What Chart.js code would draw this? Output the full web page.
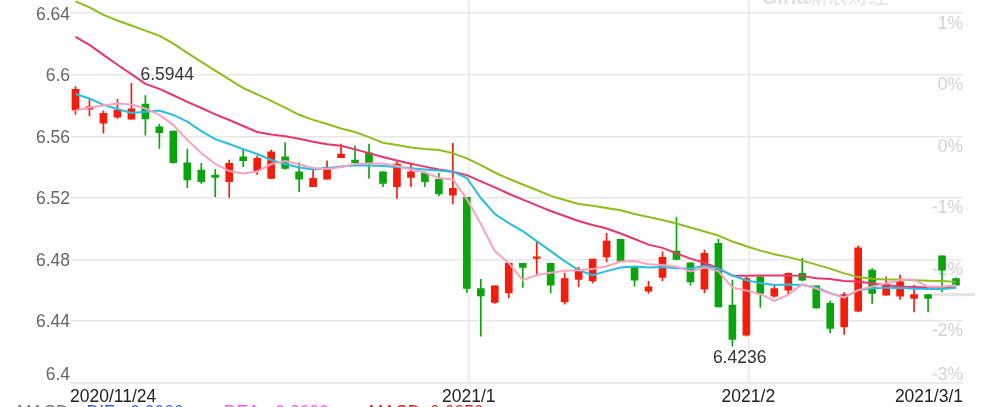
<!DOCTYPE html>
<html>
<head>
<meta charset="utf-8">
<script src="https://cdn.jsdelivr.net/npm/chart.js@4.4.1/dist/chart.umd.min.js"></script>
<style>
  html, body { margin: 0; padding: 0; background: #fff; }
  #wrap { width: 983px; height: 407px; overflow: hidden; }
</style>
</head>
<body>
<div id="wrap"><canvas id="kline" width="983" height="407"></canvas></div>
<script>
const dates = [
  '2020/11/24','2020/11/25','2020/11/26','2020/11/27','2020/11/30',
  '2020/12/1','2020/12/2','2020/12/3','2020/12/4',
  '2020/12/7','2020/12/8','2020/12/9','2020/12/10','2020/12/11',
  '2020/12/14','2020/12/15','2020/12/16','2020/12/17','2020/12/18',
  '2020/12/21','2020/12/22','2020/12/23','2020/12/24','2020/12/25',
  '2020/12/28','2020/12/29','2020/12/30','2020/12/31',
  '2021/1/4','2021/1/5','2021/1/6','2021/1/7','2021/1/8',
  '2021/1/11','2021/1/12','2021/1/13','2021/1/14','2021/1/15',
  '2021/1/18','2021/1/19','2021/1/20','2021/1/21','2021/1/22',
  '2021/1/25','2021/1/26','2021/1/27','2021/1/28','2021/1/29',
  '2021/2/1','2021/2/2','2021/2/3','2021/2/4','2021/2/5',
  '2021/2/8','2021/2/9','2021/2/10','2021/2/18','2021/2/19',
  '2021/2/22','2021/2/23','2021/2/24','2021/2/25','2021/2/26',
  '2021/3/1'
]

const opens = [
  6.5771, 6.5776, 6.5685, 6.5724, 6.5711, 6.5810, 6.5662, 6.5634, 6.5428, 6.5381,
  6.5348, 6.5305, 6.5467, 6.5376, 6.5327, 6.5467, 6.5370, 6.5272, 6.5322, 6.5461,
  6.5446, 6.5493, 6.5370, 6.5272, 6.5333, 6.5359, 6.5320, 6.5218, 6.5203, 6.4611,
  6.4520, 6.4583, 6.4774, 6.4806, 6.4774, 6.4524, 6.4670, 6.4661, 6.4817, 6.4930,
  6.4748, 6.4594, 6.4683, 6.4854, 6.4778, 6.4607, 6.4904, 6.4503, 6.4308, 6.4687,
  6.4561, 6.4600, 6.4709, 6.4628, 6.4514, 6.4362, 6.4464, 6.4730, 6.4568, 6.4561,
  6.4546, 6.4572, 6.4824, 6.4676
]
const closes = [
  6.5906, 6.5793, 6.5750, 6.5771, 6.5778, 6.5713, 6.5623, 6.5428, 6.5316, 6.5305,
  6.5333, 6.5424, 6.5441, 6.5457, 6.5500, 6.5392, 6.5322, 6.5327, 6.5398, 6.5485,
  6.5428, 6.5424, 6.5294, 6.5420, 6.5370, 6.5305, 6.5225, 6.5262, 6.4611, 6.4563,
  6.4628, 6.4774, 6.4748, 6.4817, 6.4633, 6.4676, 6.4735, 6.4802, 6.4919, 6.4789,
  6.4665, 6.4622, 6.4813, 6.4800, 6.4654, 6.4839, 6.4492, 6.4280, 6.4676, 6.4579,
  6.4611, 6.4709, 6.4665, 6.4485, 6.4351, 6.4572, 6.4876, 6.4579, 6.4637, 6.4654,
  6.4572, 6.4546, 6.4730, 6.4633
]
const highs = [
  6.5923, 6.5847, 6.5765, 6.5841, 6.5944, 6.5864, 6.5680, 6.5634, 6.5517, 6.5424,
  6.5385, 6.5446, 6.5517, 6.5472, 6.5511, 6.5558, 6.5430, 6.5392, 6.5441, 6.5550,
  6.5537, 6.5550, 6.5370, 6.5435, 6.5424, 6.5363, 6.5359, 6.5555, 6.5203, 6.4670,
  6.4628, 6.4774, 6.4774, 6.4914, 6.4774, 6.4709, 6.4748, 6.4802, 6.4969, 6.4930,
  6.4748, 6.4657, 6.4850, 6.5073, 6.4778, 6.4860, 6.4932, 6.4665, 6.4687, 6.4687,
  6.4626, 6.4713, 6.4807, 6.4628, 6.4529, 6.4585, 6.4889, 6.4741, 6.4687, 6.4698,
  6.4633, 6.4572, 6.4824, 6.4680
]
const lows = [
  6.5743, 6.5732, 6.5620, 6.5717, 6.5711, 6.5608, 6.5522, 6.5424, 6.5266, 6.5294,
  6.5207, 6.5203, 6.5402, 6.5353, 6.5327, 6.5385, 6.5240, 6.5272, 6.5322, 6.5461,
  6.5407, 6.5327, 6.5272, 6.5197, 6.5272, 6.5272, 6.5212, 6.5160, 6.4585, 6.4301,
  6.4514, 6.4550, 6.4618, 6.4704, 6.4583, 6.4509, 6.4622, 6.4648, 6.4784, 6.4784,
  6.4626, 6.4579, 6.4661, 6.4796, 6.4633, 6.4583, 6.4492, 6.4236, 6.4301, 6.4488,
  6.4553, 6.4574, 6.4661, 6.4481, 6.4323, 6.4312, 6.4460, 6.4514, 6.4568, 6.4540,
  6.4459, 6.4459, 6.4589, 6.4633
]

// moving averages
const ma5 = [
  6.5768, 6.5787, 6.5800, 6.5813, 6.5807, 6.5781, 6.5739, 6.5673, 6.5576, 6.5491,
  6.5420, 6.5374, 6.5358, 6.5371, 6.5420, 6.5439, 6.5417, 6.5394, 6.5387, 6.5400,
  6.5420, 6.5424, 6.5423, 6.5408, 6.5384, 6.5365, 6.5329, 6.5320, 6.5192, 6.5030,
  6.4854, 6.4776, 6.4665, 6.4698, 6.4714, 6.4726, 6.4730, 6.4737, 6.4756, 6.4786,
  6.4789, 6.4769, 6.4763, 6.4753, 6.4721, 6.4747, 6.4724, 6.4617, 6.4597, 6.4574,
  6.4531, 6.4571, 6.4639, 6.4610, 6.4578, 6.4552, 6.4600, 6.4623, 6.4643, 6.4667,
  6.4670, 6.4622, 6.4623, 6.4633
]
const ma10 = [
  6.5875, 6.5846, 6.5804, 6.5778, 6.5752, 6.5759, 6.5768, 6.5739, 6.5695, 6.5634,
  6.5582, 6.5550, 6.5517, 6.5485, 6.5446, 6.5420, 6.5397, 6.5385, 6.5394, 6.5404,
  6.5411, 6.5411, 6.5407, 6.5400, 6.5392, 6.5384, 6.5378, 6.5370, 6.5329, 6.5199,
  6.5095, 6.5036, 6.4984, 6.4919, 6.4854, 6.4789, 6.4730, 6.4698, 6.4724, 6.4747,
  6.4754, 6.4748, 6.4751, 6.4742, 6.4741, 6.4758, 6.4740, 6.4695, 6.4665, 6.4646,
  6.4633, 6.4637, 6.4633, 6.4617, 6.4581, 6.4555, 6.4600, 6.4613, 6.4615, 6.4615,
  6.4610, 6.4607, 6.4608, 6.4615
]
const ma20 = [
  6.6246, 6.6194, 6.6129, 6.6065, 6.6004, 6.5941, 6.5908, 6.5867, 6.5824, 6.5784,
  6.5743, 6.5706, 6.5667, 6.5628, 6.5612, 6.5601, 6.5584, 6.5565, 6.5548, 6.5538,
  6.5515, 6.5491, 6.5466, 6.5443, 6.5422, 6.5403, 6.5385, 6.5370, 6.5348, 6.5307,
  6.5268, 6.5227, 6.5189, 6.5151, 6.5115, 6.5082, 6.5050, 6.5024, 6.5001, 6.4968,
  6.4933, 6.4896, 6.4875, 6.4839, 6.4805, 6.4778, 6.4742, 6.4694, 6.4693, 6.4695,
  6.4696, 6.4695, 6.4693, 6.4678, 6.4672, 6.4659, 6.4656, 6.4643, 6.4632, 6.4624,
  6.4620, 6.4618, 6.4618, 6.4618
]
const ma30 = [
  6.6477, 6.6438, 6.6389, 6.6353, 6.6320, 6.6287, 6.6254, 6.6202, 6.6142, 6.6084,
  6.6027, 6.5970, 6.5914, 6.5873, 6.5831, 6.5786, 6.5740, 6.5707, 6.5680, 6.5651,
  6.5628, 6.5595, 6.5558, 6.5543, 6.5528, 6.5517, 6.5511, 6.5491, 6.5457, 6.5413,
  6.5365, 6.5324, 6.5287, 6.5251, 6.5213, 6.5186, 6.5160, 6.5149, 6.5134, 6.5119,
  6.5095, 6.5075, 6.5056, 6.5033, 6.5007, 6.4981, 6.4955, 6.4916, 6.4886, 6.4857,
  6.4834, 6.4815, 6.4792, 6.4766, 6.4740, 6.4709, 6.4685, 6.4675, 6.4670, 6.4670,
  6.4665, 6.4661, 6.4659, 6.4654
]

const priceTicks = [6.4, 6.44, 6.48, 6.52, 6.56, 6.6, 6.64]
const pctTicks = ['-3%', '-2%', '-2%', '-1%', '0%', '0%', '1%']
const dateTicks = [
  { date: '2020/11/24', label: '2020/11/24', align: 'left' },
  { date: '2021/1/4', label: '2021/1', align: 'center' },
  { date: '2021/2/1', label: '2021/2', align: 'center' },
  { date: '2021/3/1', label: '2021/3/1', align: 'right' }
]
const macdText = [
  { text: 'MACD', color: '#777777' },
  { text: 'DIF: -0.0000', color: '#3b5be0' },
  { text: 'DEA: -0.0000', color: '#ee55ee' },
  { text: 'MACD: 0.0050', color: '#c42a2a' }
]

const UP = '#f41d0c'
const DOWN = '#0aa50d'
const FONT = '"Liberation Sans", Arial, sans-serif'

const idx = dates.map((d, i) => i)
const candleColor = idx.map(i => closes[i] >= opens[i] ? UP : DOWN)
const monthStarts = dateTicks.filter(t => t.align === 'center').map(t => dates.indexOf(t.date))

const overlay = {
  id: 'overlay',
  beforeDatasetsDraw(chart) {
    const { ctx, chartArea: a, scales: { y } } = chart
    ctx.save()
    ctx.font = '17.5px ' + FONT
    ctx.fillStyle = '#d2d2d2'
    ctx.textAlign = 'right'
    priceTicks.forEach((v, k) => {
      const py = y.getPixelForValue(v)
      ctx.fillText(pctTicks[k], a.right, k === 0 ? py - 2.5 : py + 15.5)
    })
    // last-price marker on the right edge
    ctx.fillStyle = '#e4e4e4'
    ctx.fillRect(a.right - 30, y.getPixelForValue(closes[closes.length - 1]) + 8, 42, 3)
    ctx.restore()
  },
  afterDraw(chart) {
    const { ctx, chartArea: a, scales: { x, y } } = chart
    ctx.save()
    ctx.font = '17.5px ' + FONT

    // left price labels
    ctx.fillStyle = '#666666'
    ctx.textAlign = 'right'
    priceTicks.forEach((v, k) => {
      const py = y.getPixelForValue(v)
      ctx.fillText(String(v), a.left - 1, k === 0 ? py - 2.5 : py + 6.5)
    })

    // date labels
    ctx.fillStyle = '#222222'
    dateTicks.forEach(t => {
      const i = dates.indexOf(t.date)
      let px = x.getPixelForValue(i) + 2
      if (t.align === 'left') px = a.left - 1
      if (t.align === 'right') px = a.right
      ctx.textAlign = t.align
      ctx.fillText(t.label, px, a.bottom + 19.5)
    })

    // high / low annotations
    ctx.fillStyle = '#333333'
    ctx.textAlign = 'left'
    const hi = Math.max(...highs), lo = Math.min(...lows)
    const hiI = highs.indexOf(hi), loI = lows.indexOf(lo)
    ctx.fillText(hi.toFixed(4), x.getPixelForValue(hiI) + 9, y.getPixelForValue(hi) - 3.5)
    ctx.fillText(lo.toFixed(4), x.getPixelForValue(loI) - 19.5, y.getPixelForValue(lo) + 16.5)

    // indicator line, cut by the bottom edge
    let mx = 17
    macdText.forEach((m, k) => {
      ctx.fillStyle = m.color
      ctx.fillText(m.text, mx, 418)
      mx += ctx.measureText(m.text).width + (k === 0 ? 18 : 40)
    })

    // watermark, mostly above the top edge
    ctx.fillStyle = '#e2e2e2'
    ctx.font = 'italic bold 22px ' + FONT
    ctx.fillText('Sina', 763, 4)
    ctx.font = '20px "Noto Sans CJK SC", sans-serif'
    ctx.fillText('新浪财经', 808, 4)
    ctx.restore()
  }
}

const lineSet = (label, values, color) => ({
  type: 'line',
  label,
  data: idx.map(i => ({ x: i, y: values[i] })),
  borderColor: color,
  borderWidth: 2,
  pointRadius: 0,
  tension: 0,
  order: 0
})

new Chart(document.getElementById('kline'), {
  type: 'bar',
  data: {
    datasets: [
      lineSet('MA5', ma5, '#f7a3bf'),
      lineSet('MA10', ma10, '#29bde0'),
      lineSet('MA20', ma20, '#e6366c'),
      lineSet('MA30', ma30, '#8fbd1c'),
      {
        label: 'body',
        data: idx.map(i => ({ x: i, y: [opens[i], closes[i]] })),
        backgroundColor: candleColor,
        borderWidth: 0,
        barThickness: 7,
        minBarLength: 1.5,
        grouped: false,
        order: 1
      },
      {
        label: 'wick',
        data: idx.map(i => ({ x: i, y: [lows[i], highs[i]] })),
        backgroundColor: candleColor,
        borderWidth: 0,
        barThickness: 1,
        grouped: false,
        order: 2
      }
    ]
  },
  options: {
    responsive: false,
    animation: false,
    layout: { padding: { left: 71, right: 20, top: 0, bottom: 24.5 } },
    plugins: {
      legend: { display: false },
      tooltip: { enabled: false }
    },
    scales: {
      x: {
        type: 'linear',
        offset: false,
        min: -0.322,
        max: 63.5,
        afterBuildTicks: s => { s.ticks = monthStarts.map(v => ({ value: v + 0.15 })) },
        afterFit: s => { s.height = 0 },
        ticks: { display: false },
        grid: { offset: false, color: '#e8e8e8', lineWidth: 1.5, drawTicks: false },
        border: { display: true, color: '#e6e6e6', width: 1.5 }
      },
      y: {
        min: 6.4,
        max: 6.6486,
        afterBuildTicks: s => { s.ticks = priceTicks.map(v => ({ value: v })) },
        afterFit: s => { s.width = 0 },
        ticks: { display: false },
        grid: { color: '#e8e8e8', lineWidth: 1.5, drawTicks: false },
        border: { display: false }
      }
    }
  },
  plugins: [overlay]
})
</script>
</body>
</html>
